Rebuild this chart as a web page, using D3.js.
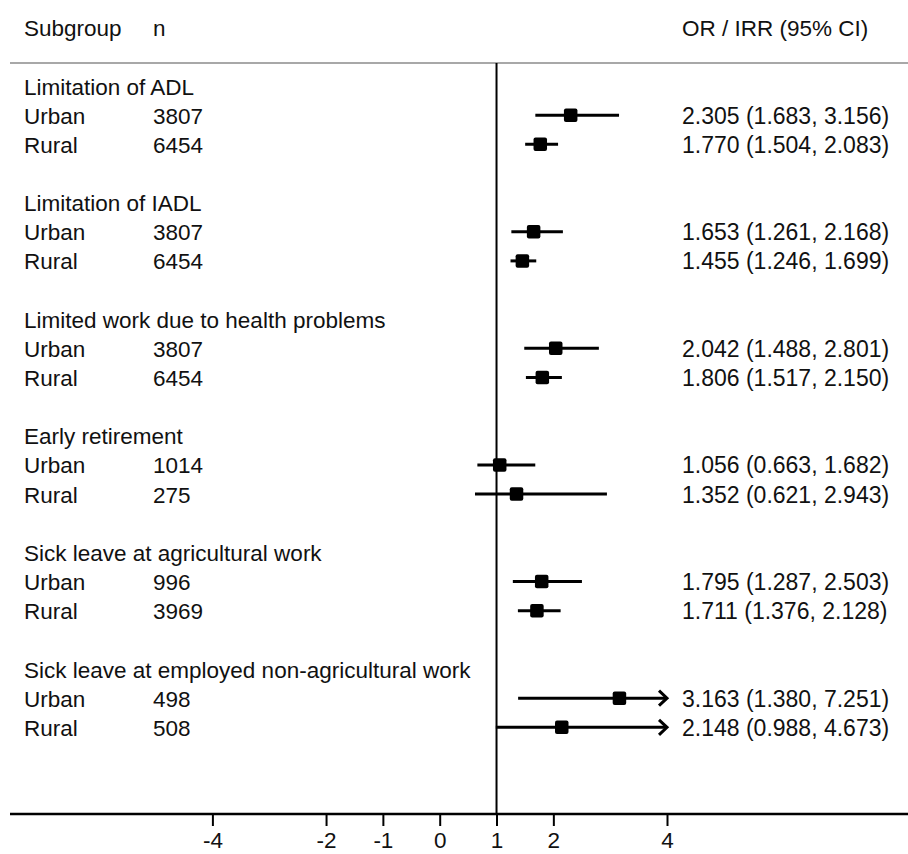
<!DOCTYPE html>
<html>
<head>
<meta charset="utf-8">
<script src="https://cdn.jsdelivr.net/npm/d3@7"></script>
<style>
  html, body { margin: 0; padding: 0; background: #fff; }
  svg { display: block; }
  text { font-family: "Liberation Sans", Arial, sans-serif; fill: #111; }
</style>
</head>
<body>
<svg id="chart" width="908" height="854"></svg>
<script>
// ---- data ----
const groups = [
  "Limitation of ADL",
  "Limitation of IADL",
  "Limited work due to health problems",
  "Early retirement",
  "Sick leave at agricultural work",
  "Sick leave at employed non-agricultural work"
];
const subgroups = ["Urban", "Rural"];
const nValues = [[3807, 6454], [3807, 6454], [3807, 6454], [1014, 275], [996, 3969], [498, 508]];
const estimates = [[2.305, 1.770], [1.653, 1.455], [2.042, 1.806], [1.056, 1.352], [1.795, 1.711], [3.163, 2.148]];
const lowerCI = [[1.683, 1.504], [1.261, 1.246], [1.488, 1.517], [0.663, 0.621], [1.287, 1.376], [1.380, 0.988]];
const upperCI = [[3.156, 2.083], [2.168, 1.699], [2.801, 2.150], [1.682, 2.943], [2.503, 2.128], [7.251, 4.673]];
const tickValues = [-4, -2, -1, 0, 1, 2, 4];
const tickLabels = ["-4", "-2", "-1", "0", "1", "2", "4"];
const headers = ["Subgroup", "n", "OR / IRR (95% CI)"];
const refValue = 1;

// ---- layout ----
const svg = d3.select("#chart");
const fontSize = 22.5;
const resSize = 23;
const x = d3.scaleLinear().domain([-4, 4]).range([212.4, 667]);
const xMax = 4;
const y = d3.scaleLinear().domain([0, 22]).range([86, 727.3]);
const colLabel = 24, colN = 153, colRes = 682;
const axisY = 814;
const fmt = d3.format(".3f");

// build rows
const rows = [];
groups.forEach((g, gi) => {
  rows.push({type: "group", label: g, row: gi * 4});
  subgroups.forEach((s, si) => {
    rows.push({
      type: "item", label: s, row: gi * 4 + 1 + si,
      n: nValues[gi][si], est: estimates[gi][si],
      lo: lowerCI[gi][si], hi: upperCI[gi][si]
    });
  });
});

// header
svg.append("text").attr("x", colLabel).attr("y", 36).attr("font-size", fontSize).text(headers[0]);
svg.append("text").attr("x", colN).attr("y", 36).attr("font-size", fontSize).text(headers[1]);
svg.append("text").attr("x", colRes).attr("y", 36).attr("font-size", fontSize).text(headers[2]);
svg.append("line").attr("x1", 10).attr("x2", 908).attr("y1", 63).attr("y2", 63)
  .attr("stroke", "#a8a8a8").attr("stroke-width", 2);

// reference line
svg.append("line").attr("x1", x(refValue)).attr("x2", x(refValue))
  .attr("y1", 63).attr("y2", axisY).attr("stroke", "#000").attr("stroke-width", 2);

// row texts
const rowG = svg.append("g");
rowG.selectAll("text.lab").data(rows).join("text")
  .attr("class", "lab").attr("x", colLabel).attr("y", d => y(d.row) + 8.5)
  .attr("font-size", fontSize).text(d => d.label);
const items = rows.filter(d => d.type === "item");
rowG.selectAll("text.n").data(items).join("text")
  .attr("class", "n").attr("x", colN).attr("y", d => y(d.row) + 8.5)
  .attr("font-size", fontSize).text(d => d.n);
rowG.selectAll("text.res").data(items).join("text")
  .attr("class", "res").attr("x", colRes).attr("y", d => y(d.row) + 8.5)
  .attr("font-size", resSize)
  .text(d => `${fmt(d.est)} (${fmt(d.lo)}, ${fmt(d.hi)})`);

// CI lines
const ciG = svg.append("g");
ciG.selectAll("line").data(items).join("line")
  .attr("x1", d => x(d.lo)).attr("x2", d => x(Math.min(d.hi, xMax)))
  .attr("y1", d => y(d.row)).attr("y2", d => y(d.row))
  .attr("stroke", "#000").attr("stroke-width", 3);
// arrows for clipped CIs
ciG.selectAll("path.arrow").data(items.filter(d => d.hi > xMax)).join("path")
  .attr("class", "arrow")
  .attr("d", d => {
    const ax = x(xMax), ay = y(d.row);
    return `M${ax - 8},${ay - 7.5}L${ax},${ay}L${ax - 8},${ay + 7.5}`;
  })
  .attr("fill", "none").attr("stroke", "#000").attr("stroke-width", 3);
// markers
const ms = 13.5;
ciG.selectAll("rect").data(items).join("rect")
  .attr("x", d => x(d.est) - ms / 2).attr("y", d => y(d.row) - ms / 2)
  .attr("width", ms).attr("height", ms).attr("rx", 2).attr("fill", "#000");

// x axis
const axis = d3.axisBottom(x).tickValues(tickValues)
  .tickFormat((d, i) => tickLabels[i]).tickSize(12).tickPadding(0);
const axG = svg.append("g").attr("transform", `translate(0,${axisY})`).call(axis);
axG.select(".domain").remove();
axG.selectAll(".tick line").attr("stroke", "#000").attr("stroke-width", 2);
axG.selectAll(".tick text").attr("font-size", fontSize)
  .attr("font-family", '"Liberation Sans", Arial, sans-serif').attr("fill", "#111")
  .attr("y", 848 - axisY).attr("dy", 0);
svg.append("line").attr("x1", 10).attr("x2", 908).attr("y1", axisY).attr("y2", axisY)
  .attr("stroke", "#000").attr("stroke-width", 2.5);
</script>
</body>
</html>
